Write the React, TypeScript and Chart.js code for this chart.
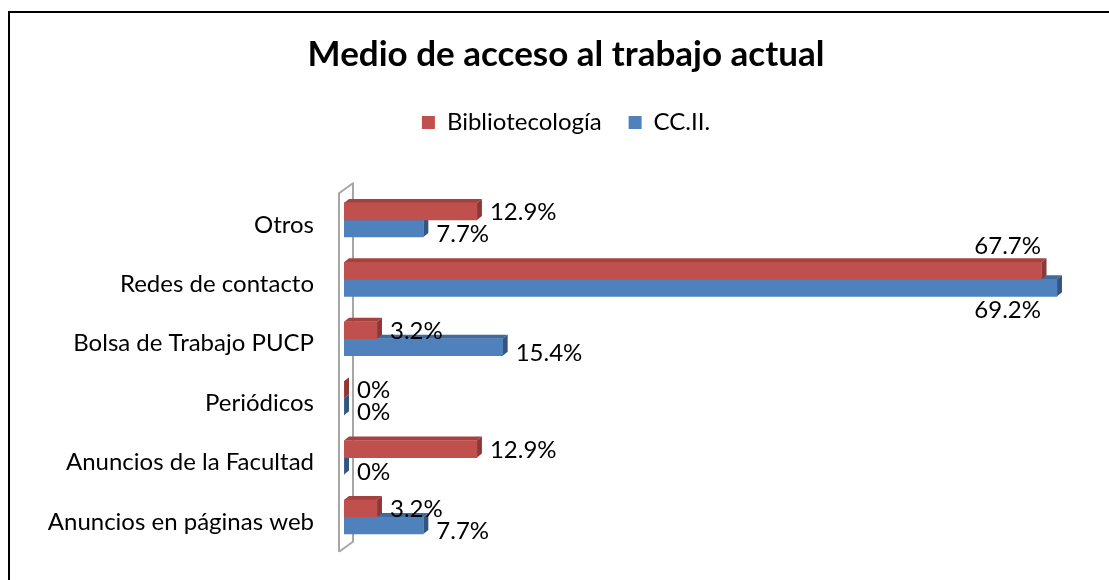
import React, { useEffect, useRef } from "react";
import { Chart, registerables } from "chart.js";

Chart.register(...registerables);

// ---- data ----
const categories = [
  "Otros",
  "Redes de contacto",
  "Bolsa de Trabajo PUCP",
  "Periódicos",
  "Anuncios de la Facultad",
  "Anuncios en páginas web",
];
const bibliotecologia = [12.9, 67.7, 3.2, 0, 12.9, 3.2];
const ccii = [7.7, 69.2, 15.4, 0, 0, 7.7];
const seriesNames = ["Bibliotecología", "CC.II."];
const chartTitle = "Medio de acceso al trabajo actual";
const valueMax = 72.6;

// ---- style ----
const FONT = "Lato, 'Open Sans', sans-serif";
const RED = "#C0504D";
const BLUE = "#4F81BD";
const FACES = [
  { top: "#A5423F", side: "#8C3836" },
  { top: "#41699B", side: "#34557E" },
];
const DX = 5;
const DY = 4;
const SHIFT = -5;
const LABEL_SIZE = 24;

const framePlugin = {
  id: "frame",
  beforeDraw(chart: any) {
    const ctx = chart.ctx;
    ctx.save();
    ctx.fillStyle = "#fff";
    ctx.fillRect(0, 0, chart.width, chart.height);
    ctx.fillStyle = "#000";
    ctx.fillRect(8, 11, chart.width - 8, 2);
    ctx.fillRect(8, 11, 2, chart.height - 11);
    ctx.restore();
  },
};

const bar3dPlugin = {
  id: "bar3d",
  beforeDatasetsDraw(chart: any) {
    const { ctx, chartArea: a } = chart;
    ctx.save();
    ctx.strokeStyle = "#A6A6A6";
    ctx.lineWidth = 2;
    ctx.lineJoin = "round";
    ctx.beginPath();
    ctx.moveTo(a.left - 5, a.bottom);
    ctx.lineTo(a.left - 5, a.top - 2);
    ctx.lineTo(a.left + 9, a.top - 12);
    ctx.lineTo(a.left + 9, a.bottom - 10);
    ctx.lineTo(a.left - 5, a.bottom);
    ctx.stroke();
    ctx.restore();

    ctx.save();
    ctx.translate(0, SHIFT);
    for (let d = chart.data.datasets.length - 1; d >= 0; d--) {
      const meta = chart.getDatasetMeta(d);
      const faces = FACES[d];
      meta.data.forEach((el: any) => {
        const { x, y, base, height } = el.getProps(["x", "y", "base", "height"], true);
        const top = y - height / 2;
        const bottom = y + height / 2;
        ctx.fillStyle = faces.top;
        ctx.beginPath();
        ctx.moveTo(base, top);
        ctx.lineTo(x, top);
        ctx.lineTo(x + DX, top - DY);
        ctx.lineTo(base + DX, top - DY);
        ctx.closePath();
        ctx.fill();
        ctx.fillStyle = faces.side;
        ctx.beginPath();
        ctx.moveTo(x, top);
        ctx.lineTo(x + DX, top - DY);
        ctx.lineTo(x + DX, bottom - DY);
        ctx.lineTo(x, bottom);
        ctx.closePath();
        ctx.fill();
      });
    }
  },
  afterDatasetsDraw(chart: any) {
    const { ctx, chartArea: a } = chart;
    ctx.restore();
    ctx.save();
    ctx.font = `${LABEL_SIZE}px ${FONT}`;
    ctx.fillStyle = "#000";
    ctx.textBaseline = "middle";
    ctx.textAlign = "left";
    const limit = a.right - 51;
    chart.data.datasets.forEach((ds: any, d: number) => {
      const meta = chart.getDatasetMeta(d);
      meta.data.forEach((el: any, i: number) => {
        const v = ds.data[i];
        const text = `${v}%`;
        const w = ctx.measureText(text).width;
        const { x, y, height } = el.getProps(["x", "y", "height"], true);
        let tx = x + DX + 8;
        let ty = y + SHIFT + (d === 0 ? 1 : 6);
        if (tx + w > limit) {
          tx = limit - w;
          ty = d === 0 ? y + SHIFT - height / 2 - DY - 12 : y + SHIFT + height / 2 + 14;
        }
        ctx.fillText(text, tx, ty);
      });
    });
    ctx.restore();
  },
};

export default function App() {
  const ref = useRef<HTMLCanvasElement>(null);
  useEffect(() => {
    if (!ref.current) return;
    const chart = new Chart(ref.current, {
      type: "bar",
      data: {
        labels: categories,
        datasets: [
          { label: seriesNames[0], data: bibliotecologia, backgroundColor: RED, borderWidth: 0, barThickness: 17 },
          { label: seriesNames[1], data: ccii, backgroundColor: BLUE, borderWidth: 0, barThickness: 17 },
        ],
      },
      options: {
        indexAxis: "y",
        responsive: false,
        animation: false,
        events: [],
        layout: { padding: { top: 12, left: 40, right: 17, bottom: 28.3 } },
        scales: {
          x: {
            type: "linear",
            min: 0,
            max: valueMax,
            position: "top",
            display: true,
            grid: { display: false, drawTicks: false },
            border: { display: false },
            ticks: { display: false },
            afterFit(scale: any) {
              scale.height = 50.6;
            },
          },
          y: {
            grid: { display: false, drawTicks: false },
            border: { display: false },
            ticks: { color: "#000", font: { family: FONT, size: LABEL_SIZE }, padding: 30 },
            afterFit(scale: any) {
              scale.width = 304;
              scale.paddingTop = 0;
              scale.paddingBottom = 0;
            },
          },
        },
        plugins: {
          title: {
            display: true,
            text: chartTitle,
            color: "#000",
            font: { family: FONT, size: 35, weight: "bold" },
            padding: { top: 22, bottom: 7.6 },
          },
          legend: {
            position: "top",
            labels: {
              boxWidth: 13,
              boxHeight: 13,
              padding: 27,
              color: "#000",
              font: { family: FONT, size: LABEL_SIZE },
            },
          },
          tooltip: { enabled: false },
        },
      },
      plugins: [framePlugin, bar3dPlugin],
    });
    return () => chart.destroy();
  }, []);
  return (
    <div style={{ position: "fixed", left: 0, top: 0, width: 1109, height: 580, overflow: "hidden" }}>
      <canvas ref={ref} width={1109} height={580} style={{ width: 1109, height: 580, display: "block" }} />
    </div>
  );
}
